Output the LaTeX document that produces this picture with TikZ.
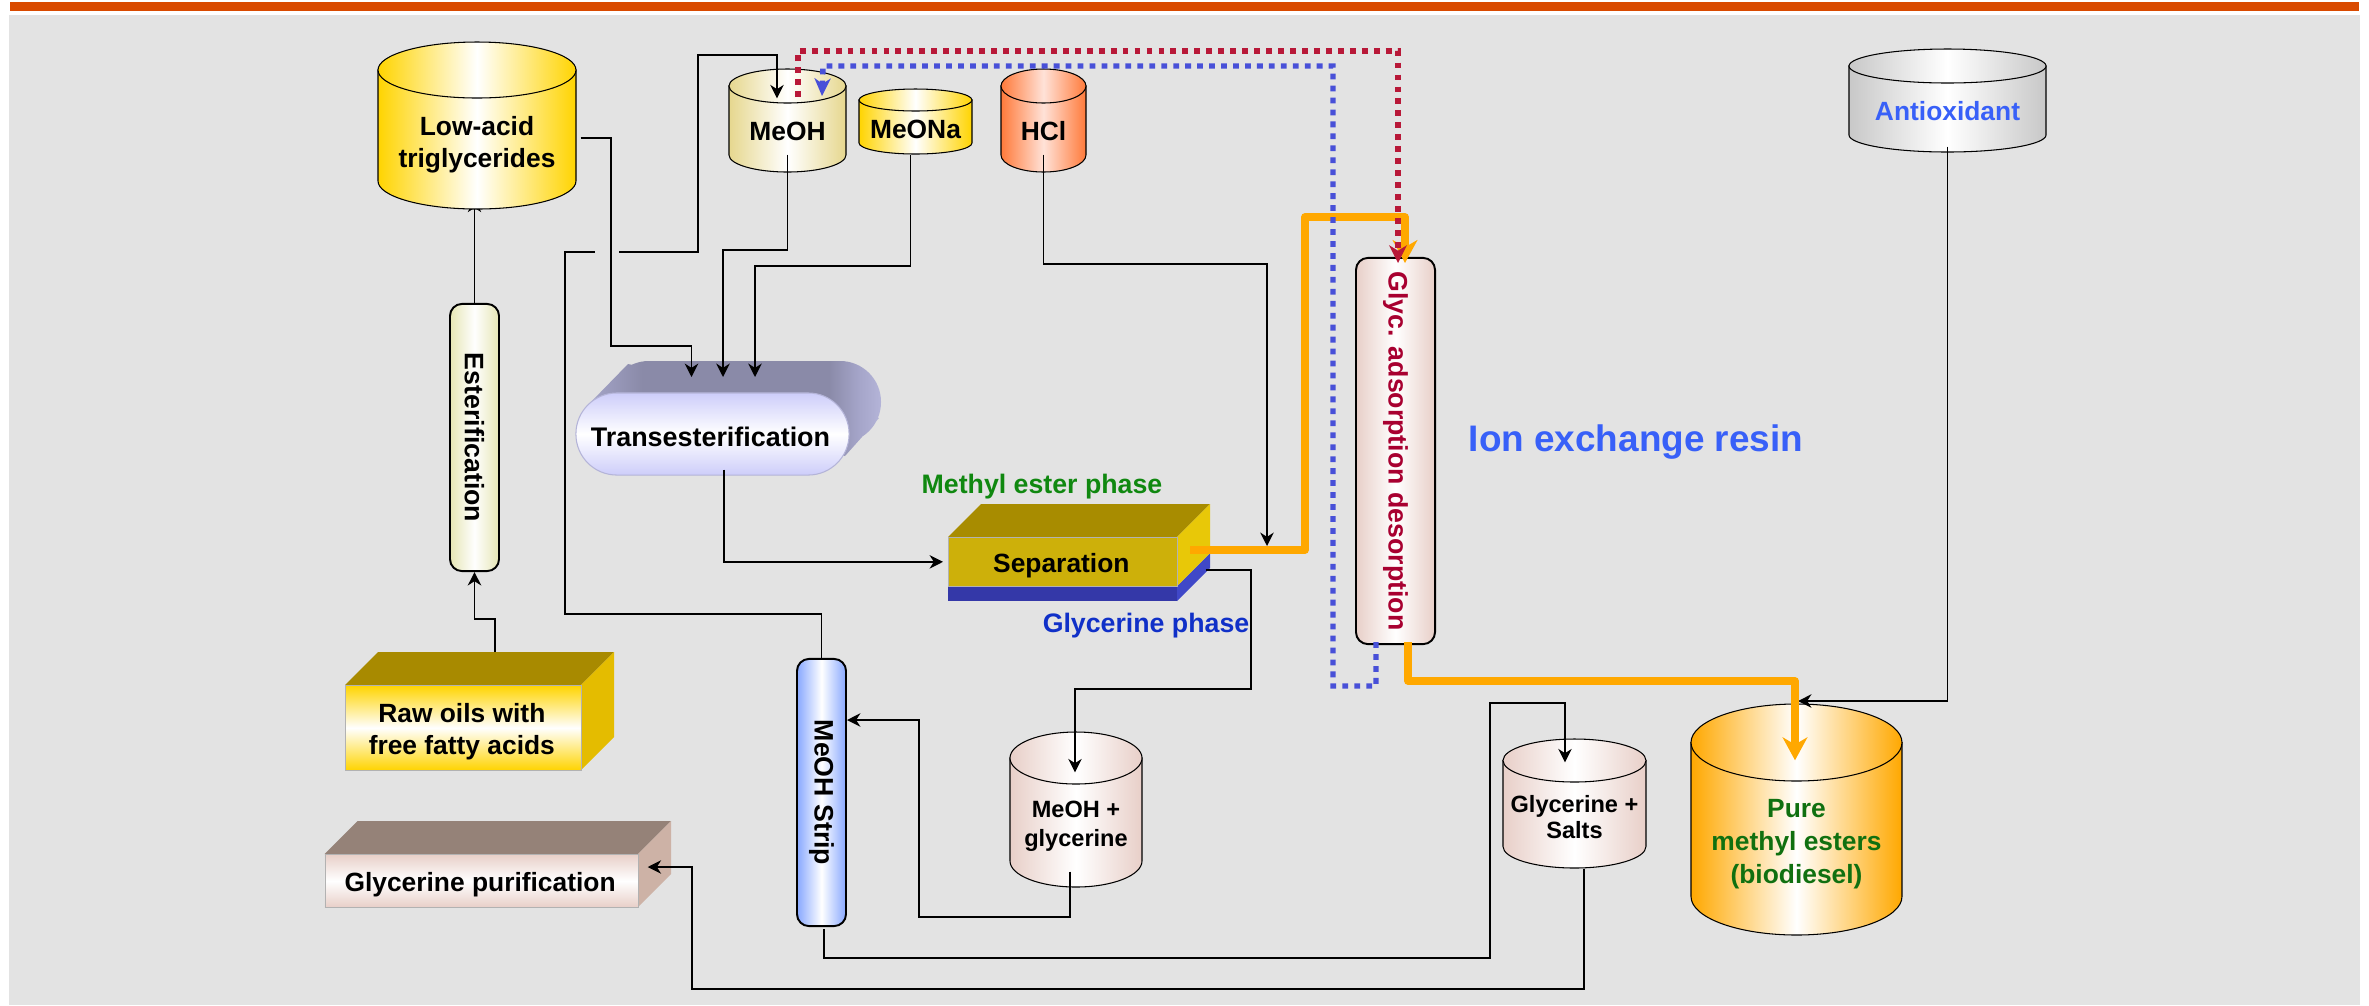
\documentclass[tikz,border=0pt]{standalone}
\usepackage{fontspec}
\setmainfont{Liberation Sans}
\usetikzlibrary{arrows.meta,calc}
\pgfdeclarelayer{background}
\pgfsetlayers{background,main}
\definecolor{barorange}{HTML}{D94A00}
\definecolor{panelgrey}{HTML}{E3E3E3}
\definecolor{oilgold}{HTML}{FFD400}
\definecolor{oiltop}{HTML}{A88A00}
\definecolor{oilside}{HTML}{E4BC00}
\definecolor{septop}{HTML}{A88C00}
\definecolor{sepfront}{HTML}{CDB00A}
\definecolor{sepside}{HTML}{E8C808}
\definecolor{sepblue}{HTML}{3438A8}
\definecolor{sepblueside}{HTML}{4048C8}
\definecolor{purtop}{HTML}{958278}
\definecolor{purside}{HTML}{CDB2A6}
\definecolor{meohtan}{HTML}{E6D78E}
\definecolor{hclorange}{HTML}{FF7A3A}
\definecolor{hclpale}{HTML}{FFE2D8}
\definecolor{saltrose}{HTML}{E8CFC8}
\definecolor{pureorange}{HTML}{FFA800}
\definecolor{tankgrey}{HTML}{C8C8C8}
\definecolor{estpale}{HTML}{E6E6B4}
\definecolor{stripblue}{HTML}{88A8FF}
\definecolor{flowred}{HTML}{B81838}
\definecolor{flowblue}{HTML}{4850D8}
\definecolor{floworange}{HTML}{FFA800}
\definecolor{glycred}{HTML}{A80030}
\definecolor{ionblue}{HTML}{3860F8}
\definecolor{estergreen}{HTML}{108810}
\definecolor{puregreen}{HTML}{107010}
\definecolor{phaseblue}{HTML}{1030C8}
\definecolor{transpale}{HTML}{CDCDFA}
\definecolor{transrim}{HTML}{B4B4D8}
\definecolor{transdark}{HTML}{8A8AA8}
\definecolor{transmid}{HTML}{A4A4C8}
\pgfdeclarehorizontalshading{transback}{100bp}{color(0bp)=(transmid); color(25bp)=(transmid); color(34bp)=(transdark); color(66bp)=(transdark); color(71bp)=(transmid); color(75bp)=(transrim); color(100bp)=(transrim)}
\tikzset{
	oilfill/.style={left color=oilgold,right color=oilgold,middle color=white},
	meohfill/.style={left color=meohtan,right color=meohtan,middle color=white},
	hclfill/.style={left color=hclorange,right color=hclorange,middle color=hclpale},
	saltfill/.style={left color=saltrose,right color=saltrose,middle color=white},
	purefill/.style={left color=pureorange,right color=pureorange,middle color=white},
	greyfill/.style={left color=tankgrey,right color=tankgrey,middle color=white},
	estfill/.style={left color=estpale,right color=estpale,middle color=white},
	stripfill/.style={left color=stripblue,right color=stripblue,middle color=white},
	tanktext/.style={align=center,inner sep=0pt,font=\fontsize{7.5}{9.1}\selectfont\bfseries},
	smalltext/.style={font=\fontsize{6.7}{#1}\selectfont\bfseries},
	labeltext/.style={inner sep=0pt,font=\fontsize{7.6}{9.1}\selectfont\bfseries},
	tube/.style={draw=black,line width=.55pt,rounded corners=3.4pt,inner sep=0pt,minimum width=#1},
	slabface/.style={draw=black!30,line width=.2pt,inner sep=0pt},
	flow/.style={line width=.55pt,-{Stealth[length=3.8pt,width=3.8pt,inset=1.2pt]}},
	pipe/.style={line width=.55pt},
	redflow/.style={flowred,line width=1.55pt,dash pattern=on 1.65pt off 1.75pt,-{Stealth[length=5pt,width=5pt,inset=1.5pt]}},
	blueflow/.style={flowblue,line width=1.55pt,dash pattern=on 1.65pt off 1.75pt,-{Stealth[length=5pt,width=4.6pt,inset=1.5pt]}},
	orangeflow/.style={floworange,line width=2.2pt,line join=round,-{Stealth[length=6.5pt,width=7pt,inset=2pt]}}
}
\newcommand{\tank}[9]{
	\draw[line width=.3pt,#7] (#2-#3,#4+#6) -- (#2-#3,#4+#5-#6) arc[start angle=180,end angle=0,x radius=#3,y radius=#6] -- (#2+#3,#4+#6) -- cycle;
	\draw[line width=.3pt,#7] (#2,#4+#6) ellipse [x radius=#3,y radius=#6];
	\node[inner sep=0pt,minimum width=2*#3*.01cm,minimum height=#5*.01cm] (#1) at (#2,#4+#5/2) {};
	\node[tanktext,#8] (#1 text) at (#1.center) {#9};
}
\newcommand{\slab}[9]{
	\fill[#6] (#2,#3) -- ++(33,-33) -- ++(#4,0) -- ++(-33,33) -- cycle;
	\fill[#7] (#2+#4,#3) -- ++(33,-33) -- ++(0,#5) -- ++(-33,33) -- cycle;
	\node[slabface,#8,minimum width=#4*.01cm,minimum height=#5*.01cm,anchor=north west] (#1) at (#2,#3) {};
	\node[tanktext] (#1 text) at ($(#1.center)+(-1.5,4)$) {#9};
}
\begin{document}
\begin{tikzpicture}[x=.01cm,y=-.01cm]
	\useasboundingbox (0,0) rectangle (2369,1005);
	\begin{pgfonlayer}{background}
		\fill[panelgrey] (9,15) rectangle (2360,1005);
	\end{pgfonlayer}
	\fill[barorange] (10,2) rectangle (2359,11);

	\tank{oil}{477}{99}{42}{167}{28}{oilfill}{yshift=-.19cm}{Low-acid\\triglycerides}
	\tank{meoh}{787.5}{58.5}{69}{103}{17}{meohfill}{yshift=-.105cm}{MeOH}
	\tank{meona}{915.5}{56.5}{89}{65}{11}{oilfill}{yshift=-.08cm}{MeONa}
	\tank{hcl}{1043.5}{42.5}{69}{103}{17}{hclfill}{yshift=-.105cm}{HCl}
	\tank{anti}{1947.5}{98.5}{49}{103}{17}{greyfill}{yshift=-.105cm,text=ionblue}{Antioxidant}
	\tank{mix}{1076}{66}{732}{155}{26}{saltfill}{yshift=-.17cm,smalltext=8.2}{MeOH +\\glycerine}
	\tank{salts}{1574.5}{71.5}{739}{129}{21.5}{saltfill}{yshift=-.135cm,smalltext=7.4}{Glycerine +\\Salts}
	\tank{pure}{1796.5}{105.5}{704}{231}{38.5}{purefill}{yshift=-.245cm,text=puregreen,font=\fontsize{7.5}{9.4}\selectfont\bfseries}{Pure\\methyl esters\\(biodiesel)}

	\slab{raw}{345}{685}{236}{85}{oiltop}{oilside}{top color=oilgold,bottom color=oilgold,middle color=white}{Raw oils with\\free fatty acids}
	\slab{purif}{324.5}{854}{313.5}{53}{purtop}{purside}{top color=saltrose,bottom color=saltrose,middle color=white}{Glycerine purification}

	\fill[sepblue] (948,586) rectangle (1177,601);
	\fill[sepblueside] (1177,586) -- (1210,553) -- (1210,568) -- (1177,601) -- cycle;
	\slab{sep}{948}{537}{229}{49}{septop}{sepside}{fill=sepfront}{Separation}

	\shade[shading=transback,rounded corners=11.6pt] (608,361) rectangle (881,443) [sharp corners] (590,403) -- (845,456) -- (879,418) -- (628,364) -- cycle;
	\node[draw=transrim,line width=.3pt,rounded corners=11.6pt,inner sep=0pt,minimum width=2.73cm,minimum height=.82cm,top color=transpale,bottom color=transpale,middle color=white] (trans) at (712.5,434) {};
	\node[inner sep=0pt,font=\fontsize{7.65}{9.1}\selectfont\bfseries] (trans text) at ($(trans.center)+(-2,3)$) {Transesterification};

	\foreach \nm/\cx/\cy/\tw/\hh/\fl/\tc/\tx in {est/474.5/437.5/.49cm/2.67cm/estfill/black/Esterification, strip/821.5/792.5/.49cm/2.67cm/stripfill/black/MeOH Strip, glyc/1395.5/451/.79cm/3.86cm/saltfill/glycred/Glyc. adsorption desorption}
	{
		\node[tube=\tw,\fl,minimum height=\hh] (\nm) at (\cx,\cy) {};
		\node[labeltext,text=\tc,rotate=-90] (\nm text) at (\nm) {\tx};
	}

	\node[labeltext,text=estergreen] (ester label) at (1042,487) {Methyl ester phase};
	\node[labeltext,text=phaseblue] (phase label) at (1146,626) {Glycerine phase};
	\node[inner sep=0pt,text=ionblue,font=\fontsize{10.5}{12}\selectfont\bfseries] (ion label) at (1636,442) {Ion exchange resin};

	\coordinate (g1) at (595,252); \coordinate (g2) at (619,252);
	\coordinate (oil in) at (691.5,377); \coordinate (meoh in) at (723,377);
	\coordinate (meona in) at (755,377); \coordinate (hcl in) at (1267,546);
	\coordinate (antis in) at (1798,701); \coordinate (red end) at (1398,263);
	\coordinate (blue end) at (822,96); \coordinate (orange in) at (1405,263);

	\begin{pgfonlayer}{background}
		\draw[flow] (est.north) -- ($(oil.south)+(-2.5,-11)$);
	\end{pgfonlayer}
	\draw[flow] ($(oil.east)+(4,12.5)$) -| (611,346) -| (oil in);
	\draw[flow] ($(meoh.south)+(0,-18)$) |- (723,250) -- (meoh in);
	\draw[flow] ($(meona.south)+(-5,0)$) |- (755,266) -- (meona in);
	\draw[flow] ($(hcl.south)+(0,-18)$) |- (1267,264) -- (hcl in);
	\draw[flow] ($(anti.south)+(0,-6)$) |- (antis in);
	\draw[flow] (raw.north) ++(32,-33) |- (est.south |- 0,619) -- (est.south);
	\draw[flow] (trans.south) ++(11.5,-6) |- ($(sep.west)+(-5,0)$);
	\draw[flow] (sep.east) ++(28,8) -| (1251,689) -| ($(mix.north)+(-1,41)$);
	\draw[flow] ($(mix.south)+(-6,-16)$) |- (919,917) |- (strip.east |- 0,720);
	\draw[pipe] (strip.north) |- (565,614) |- (g1);
	\draw[flow] (g2) -| (698,55) -| ($(meoh.north)+(-10.5,30)$);
	\draw[flow] (strip.south) ++(2.5,2) |- (1490,958) |- (1565,703) -- ($(salts.north)+(-9.5,24)$);
	\draw[flow] (salts.south) ++(9.5,0) |- (692,989) |- ($(purif.east |- 0,867)+(9,0)$);

	\draw[orangeflow] (1190,550) -| (1305,217) -| (orange in);
	\draw[orangeflow] ($(glyc.south)+(12.5,-3)$) |- (1795,681) -- ($(pure.north)+(-1.5,57)$);
	\draw[redflow] (798,97) |- (1398,51) -- (red end);
	\draw[blueflow] ($(glyc.south)+(-19.5,-3)$) |- (1333,686) |- (823,66) -- (blue end);
\end{tikzpicture}
\end{document}
